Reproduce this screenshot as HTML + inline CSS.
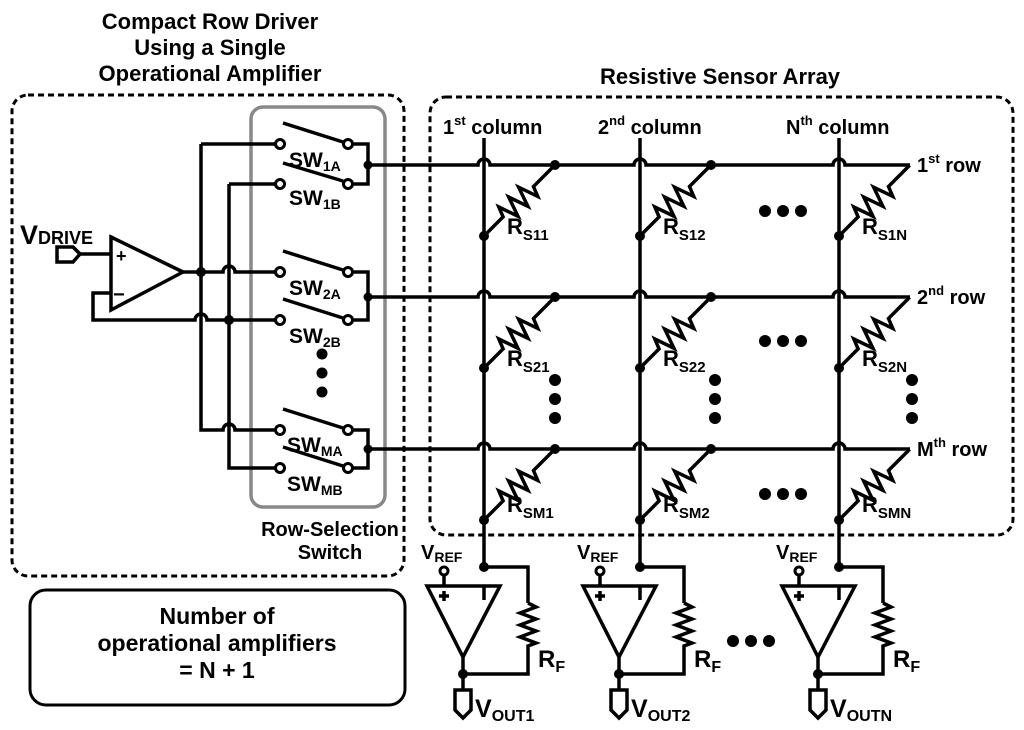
<!DOCTYPE html>
<html><head><meta charset="utf-8"><style>
html,body{margin:0;padding:0;background:#fff;}
svg{display:block;}
text{font-family:"Liberation Sans",Arial,sans-serif;font-weight:bold;fill:#000;}
</style></head><body>
<svg width="1024" height="730" viewBox="0 0 1024 730" xmlns="http://www.w3.org/2000/svg">
<defs>
<g id="res"><path d="M0,0 L27,0 L31,-10 L38,10 L45,-10 L52,10 L59,-10 L66,10 L70,0 L100,0" fill="none" stroke="#000" stroke-width="3.5" stroke-linejoin="miter"/></g>
<g id="tia">
<g fill="none" stroke="#000" stroke-width="3.5">
<path d="M427,586 L500,586 L463,657 Z"/>
<path d="M484,567 L528,567 L528,603"/>
<path d="M528,603 L536,607 L520,613 L536,619 L520,625 L536,631 L520,637 L536,643 L528,646 L528,674 L463,674"/>
<path d="M463,657 L463,690"/>
<path d="M444,575 L444,586"/>
<path d="M455,690 L471,690 L471,710 L463,718 L455,710 Z"/>
<path d="M484,586 L484,600 M439,596 L449,596 M444,591 L444,601"/>
</g>
<circle cx="444" cy="571" r="4" fill="#fff" stroke="#000" stroke-width="3"/>
<circle cx="484" cy="567" r="5" fill="#000"/>
<circle cx="463" cy="674" r="5" fill="#000"/>
<text x="538" y="667" font-size="24">R<tspan font-size="16" dy="5">F</tspan></text>
<text x="421" y="559" font-size="20">V<tspan font-size="14" dy="3">REF</tspan></text>
</g>
</defs>

<text x="210" y="29" font-size="22" text-anchor="middle">Compact Row Driver</text>
<text x="210" y="55" font-size="22" text-anchor="middle">Using a Single</text>
<text x="210" y="81" font-size="22" text-anchor="middle">Operational Amplifier</text>
<text x="720" y="84" font-size="22" text-anchor="middle">Resistive Sensor Array</text>

<rect x="12" y="95" width="392" height="481" rx="16" fill="none" stroke="#000" stroke-width="3" stroke-dasharray="6,4"/>
<rect x="430" y="97" width="583" height="438" rx="16" fill="none" stroke="#000" stroke-width="3" stroke-dasharray="6,4"/>
<rect x="251" y="107" width="134" height="400" rx="12" fill="none" stroke="#888" stroke-width="3.5"/>
<rect x="30" y="590" width="375" height="115" rx="16" fill="none" stroke="#000" stroke-width="3"/>
<text x="217" y="624" font-size="23" text-anchor="middle">Number of</text>
<text x="217" y="651" font-size="23" text-anchor="middle">operational amplifiers</text>
<text x="217" y="678" font-size="23" text-anchor="middle">= N + 1</text>
<text x="330" y="536" font-size="20" text-anchor="middle">Row-Selection</text>
<text x="330" y="559" font-size="20" text-anchor="middle">Switch</text>

<g fill="none" stroke="#000" stroke-width="3.5">
<path d="M111,237 L183,272 L111,310 Z"/>
<path d="M80,254 L111,254"/>
<path d="M57,247 L73,247 L80,254 L73,262 L57,262 Z"/>
<path d="M111,293 L93,293 L93,320 L195,320 A6,6 0 0 1 207,320 L279,320"/>
<path d="M183,272 L223,272 A6,6 0 0 1 235,272 L279,272"/>
<path d="M201,144 L279,144 M201,144 L201,430 L223,430 A6,6 0 0 1 235,430 L279,430"/>
<path d="M229,184 L279,184 M229,184 L229,468 L279,468"/>
<path d="M283,123 L343,142 M283,163 L343,181 M348,144 L368,144 L368,184 L352,184"/>
<path d="M283,251 L343,270 M283,299 L343,318 M348,272 L368,272 L368,320 L352,320"/>
<path d="M283,409 L343,428 M283,447 L343,466 M348,430 L368,430 L368,468 L352,468"/>
</g>
<g fill="#fff" stroke="#000" stroke-width="3">
<circle cx="280" cy="144" r="4.5"/><circle cx="348" cy="144" r="4.5"/>
<circle cx="280" cy="184" r="4.5"/><circle cx="348" cy="184" r="4.5"/>
<circle cx="280" cy="272" r="4.5"/><circle cx="348" cy="272" r="4.5"/>
<circle cx="280" cy="320" r="4.5"/><circle cx="348" cy="320" r="4.5"/>
<circle cx="280" cy="430" r="4.5"/><circle cx="348" cy="430" r="4.5"/>
<circle cx="280" cy="468" r="4.5"/><circle cx="348" cy="468" r="4.5"/>
</g>
<g fill="#000">
<circle cx="201" cy="272" r="5"/><circle cx="229" cy="320" r="5"/>
<circle cx="368" cy="165" r="4.5"/><circle cx="368" cy="297" r="4.5"/><circle cx="368" cy="449" r="4.5"/>
<circle cx="322" cy="354" r="5.5"/><circle cx="322" cy="373" r="5.5"/><circle cx="322" cy="392" r="5.5"/>
</g>
<text x="116" y="262" font-size="18">+</text>
<text x="113" y="301" font-size="20">−</text>
<text x="20" y="244" font-size="27">V<tspan font-size="18">DRIVE</tspan></text>
<g font-size="21">
<text x="289" y="167">SW<tspan font-size="14" dy="4">1A</tspan></text>
<text x="289" y="205">SW<tspan font-size="14" dy="4">1B</tspan></text>
<text x="289" y="295">SW<tspan font-size="14" dy="4">2A</tspan></text>
<text x="289" y="343">SW<tspan font-size="14" dy="4">2B</tspan></text>
<text x="287" y="452">SW<tspan font-size="14" dy="4">MA</tspan></text>
<text x="287" y="491">SW<tspan font-size="14" dy="4">MB</tspan></text>
</g>

<g fill="none" stroke="#000" stroke-width="3.5">
<path d="M368,165 L478,165 A6,6 0 0 1 490,165 L634,165 A6,6 0 0 1 646,165 L833,165 A6,6 0 0 1 845,165 L910,165"/>
<path d="M368,297 L478,297 A6,6 0 0 1 490,297 L634,297 A6,6 0 0 1 646,297 L833,297 A6,6 0 0 1 845,297 L910,297"/>
<path d="M368,449 L478,449 A6,6 0 0 1 490,449 L634,449 A6,6 0 0 1 646,449 L833,449 A6,6 0 0 1 845,449 L910,449"/>
<path d="M484,138 L484,567 M640,138 L640,567 M839,138 L839,567"/>
</g>
<use href="#res" transform="translate(484,236) rotate(-45)"/>
<use href="#res" transform="translate(640,236) rotate(-45)"/>
<use href="#res" transform="translate(839,236) rotate(-45)"/>
<use href="#res" transform="translate(484,368) rotate(-45)"/>
<use href="#res" transform="translate(640,368) rotate(-45)"/>
<use href="#res" transform="translate(839,368) rotate(-45)"/>
<use href="#res" transform="translate(484,520) rotate(-45)"/>
<use href="#res" transform="translate(640,520) rotate(-45)"/>
<use href="#res" transform="translate(839,520) rotate(-45)"/>
<g fill="#000">
<circle cx="555" cy="165" r="5"/><circle cx="711" cy="165" r="5"/>
<circle cx="555" cy="297" r="5"/><circle cx="711" cy="297" r="5"/>
<circle cx="555" cy="449" r="5"/><circle cx="711" cy="449" r="5"/>
<circle cx="484" cy="236" r="5"/><circle cx="640" cy="236" r="5"/><circle cx="839" cy="236" r="5"/>
<circle cx="484" cy="368" r="5"/><circle cx="640" cy="368" r="5"/><circle cx="839" cy="368" r="5"/>
<circle cx="484" cy="520" r="5"/><circle cx="640" cy="520" r="5"/><circle cx="839" cy="520" r="5"/>
<circle cx="765" cy="211" r="6"/><circle cx="783" cy="211" r="6"/><circle cx="801" cy="211" r="6"/>
<circle cx="765" cy="341" r="6"/><circle cx="783" cy="341" r="6"/><circle cx="801" cy="341" r="6"/>
<circle cx="765" cy="494" r="6"/><circle cx="783" cy="494" r="6"/><circle cx="801" cy="494" r="6"/>
<circle cx="733" cy="641" r="6"/><circle cx="751" cy="641" r="6"/><circle cx="769" cy="641" r="6"/>
<circle cx="555" cy="380" r="6"/><circle cx="555" cy="399" r="6"/><circle cx="555" cy="418" r="6"/>
<circle cx="715" cy="380" r="6"/><circle cx="715" cy="399" r="6"/><circle cx="715" cy="418" r="6"/>
<circle cx="912" cy="380" r="6"/><circle cx="912" cy="399" r="6"/><circle cx="912" cy="418" r="6"/>
</g>
<g font-size="22">
<text x="507" y="234">R<tspan font-size="15" dy="6">S11</tspan></text>
<text x="663" y="234">R<tspan font-size="15" dy="6">S12</tspan></text>
<text x="862" y="234">R<tspan font-size="15" dy="6">S1N</tspan></text>
<text x="507" y="366">R<tspan font-size="15" dy="6">S21</tspan></text>
<text x="663" y="366">R<tspan font-size="15" dy="6">S22</tspan></text>
<text x="862" y="366">R<tspan font-size="15" dy="6">S2N</tspan></text>
<text x="507" y="512">R<tspan font-size="15" dy="6">SM1</tspan></text>
<text x="663" y="512">R<tspan font-size="15" dy="6">SM2</tspan></text>
<text x="862" y="512">R<tspan font-size="15" dy="6">SMN</tspan></text>
</g>
<g font-size="20">
<text x="443" y="134">1<tspan font-size="13" dy="-9">st</tspan><tspan dy="9"> column</tspan></text>
<text x="598" y="134">2<tspan font-size="13" dy="-9">nd</tspan><tspan dy="9"> column</tspan></text>
<text x="786" y="134">N<tspan font-size="13" dy="-9">th</tspan><tspan dy="9"> column</tspan></text>
<text x="917" y="172">1<tspan font-size="13" dy="-9">st</tspan><tspan dy="9"> row</tspan></text>
<text x="917" y="304">2<tspan font-size="13" dy="-9">nd</tspan><tspan dy="9"> row</tspan></text>
<text x="917" y="456">M<tspan font-size="13" dy="-9">th</tspan><tspan dy="9"> row</tspan></text>
</g>

<use href="#tia"/>
<use href="#tia" transform="translate(156,0)"/>
<use href="#tia" transform="translate(355,0)"/>
<g font-size="25">
<text x="475" y="717">V<tspan font-size="16" dy="4">OUT1</tspan></text>
<text x="631" y="717">V<tspan font-size="16" dy="4">OUT2</tspan></text>
<text x="830" y="717">V<tspan font-size="16" dy="4">OUTN</tspan></text>
</g>
</svg>
</body></html>
